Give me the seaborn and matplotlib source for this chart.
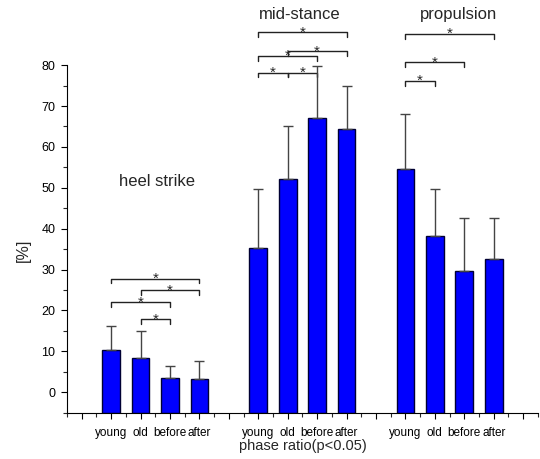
import numpy as np
import pandas as pd
import matplotlib
matplotlib.use("Agg")
import matplotlib.pyplot as plt
from matplotlib.ticker import MultipleLocator
import seaborn as sns

# values
phases = ['heel strike', 'mid-stance', 'propulsion']
groups = ['young', 'old', 'before', 'after']

heel_mean = [10.3, 8.4, 3.4, 3.3]
heel_sd = [5.9, 6.6, 3.1, 4.3]
mid_mean = [35.2, 52.1, 67.0, 64.3]
mid_sd = [14.5, 12.9, 12.9, 10.6]
prop_mean = [54.5, 38.2, 29.6, 32.5]
prop_sd = [13.6, 11.6, 12.9, 10.0]

# significant pairs (group a, group b, bracket height)
heel_sig = [(0, 3, 27.8), (1, 3, 25.0), (0, 2, 22.1), (1, 2, 17.9)]
mid_sig = [(0, 3, 88.0), (1, 3, 83.4), (0, 2, 82.3), (0, 1, 78.2), (1, 2, 78.2)]
prop_sig = [(0, 3, 87.7), (0, 2, 80.8), (0, 1, 76.2)]

means = [heel_mean, mid_mean, prop_mean]
sds = [heel_sd, mid_sd, prop_sd]
sigs = [heel_sig, mid_sig, prop_sig]

rows = []
for i, ph in enumerate(phases):
    for j, g in enumerate(groups):
        rows.append({'phase': ph, 'group': g, 'pos': i * 5 + j + 2,
                     'mean': means[i][j], 'sd': sds[i][j]})
df = pd.DataFrame(rows)

sns.set_style("ticks")
plt.rcParams['font.family'] = ['Liberation Sans', 'DejaVu Sans']

fig = plt.figure(figsize=(5.4, 4.59), dpi=100)
ax = fig.add_axes([0.124, 0.101, 0.872, 0.757])

ymin = -5
sns.barplot(data=df, x='pos', y='mean', native_scale=True, width=0.6,
            color='#0000FF', saturation=1, edgecolor='#000033', linewidth=1,
            errorbar=None, ax=ax)
# bars start at the bottom of the axis, as in the original
for p in ax.patches:
    h = p.get_height()
    p.set_y(ymin)
    p.set_height(h - ymin)

ax.errorbar(df['pos'], df['mean'], yerr=[np.zeros(len(df)), df['sd']],
            fmt='none', ecolor='#444444', elinewidth=1, capsize=3.5,
            capthick=1, zorder=3)

# significance brackets
for i, pairs in enumerate(sigs):
    for a, b, h in pairs:
        x1 = i * 5 + a + 2
        x2 = i * 5 + b + 2
        ax.plot([x1, x1, x2, x2], [h - 1.2, h, h, h - 1.2], color='#222222',
                lw=1, clip_on=False)
        ax.text((x1 + x2) / 2, h - 1.1, '*', ha='center', va='baseline',
                fontsize=11, clip_on=False)

ax.text(3.55, 51.6, 'heel strike', ha='center', va='center', fontsize=12)
ax.text(8.4, 92.4, 'mid-stance', ha='center', va='center', fontsize=12)
ax.text(13.8, 92.4, 'propulsion', ha='center', va='center', fontsize=12)

ax.set_xlim(0.5, 16.5)
ax.set_ylim(ymin, 80)
ticks = list(range(1, 17))
labels = ['' for t in ticks]
for _, r in df.iterrows():
    labels[int(r['pos']) - 1] = r['group']
ax.set_xticks(ticks)
ax.set_xticklabels(labels, fontsize=8.5)
ax.xaxis.set_minor_locator(MultipleLocator(1, offset=0.5))
ax.set_yticks(range(0, 81, 10))
ax.yaxis.set_minor_locator(MultipleLocator(5))
ax.tick_params(axis='x', which='major', length=4.3, width=0.8, pad=6)
ax.tick_params(axis='y', which='major', length=4.3, width=0.8, pad=4, labelsize=9)
ax.tick_params(which='minor', length=2.6, width=0.8)
sns.despine(ax=ax)
for s in ['left', 'bottom']:
    ax.spines[s].set_linewidth(0.8)
    ax.spines[s].set_color('black')
ax.tick_params(colors='black')

ax.set_xlabel('phase ratio(p<0.05)', fontsize=10.5, va='top')
ax.xaxis.set_label_coords(0.5, -0.075)
ax.set_ylabel('[%]', fontsize=11.5, va='center')
ax.yaxis.set_label_coords(-0.093, 0.468)

fig.savefig('out.png', dpi=100, facecolor='white')
